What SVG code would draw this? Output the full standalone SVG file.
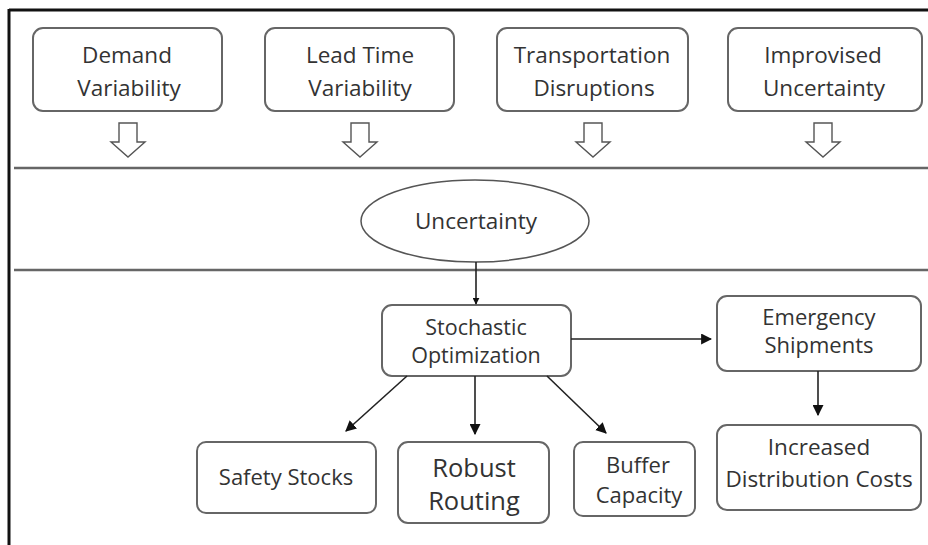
<svg xmlns="http://www.w3.org/2000/svg" width="928" height="545" viewBox="0 0 928 545">
  <defs>
    <style>
      .box { fill: #ffffff; stroke: #666666; stroke-width: 2; }
      .lbl { font-family: "Open Sans", "DejaVu Sans", sans-serif; fill: #333333; text-anchor: middle; }
      .band { stroke: #666666; stroke-width: 2.5; }
      .conn { stroke: #222222; stroke-width: 1.6; fill: none; }
      .hollow { fill: #ffffff; stroke: #555555; stroke-width: 1.4; stroke-linejoin: miter; }
    </style>
    <marker id="head" viewBox="0 0 10 10" refX="9" refY="5" markerWidth="7" markerHeight="7" markerUnits="userSpaceOnUse" orient="auto">
      <path d="M0,0 L10,5 L0,10 Z" fill="#111111"/>
    </marker>
    <marker id="headL" viewBox="0 0 10 10" refX="9" refY="5" markerWidth="11" markerHeight="11" markerUnits="userSpaceOnUse" orient="auto">
      <path d="M0,0 L10,5 L0,10 Z" fill="#111111"/>
    </marker>
    <path id="hollowArrow" d="M-9,0 L9,0 L9,19 L17,19 L0,34 L-17,19 L-9,19 Z"/>
  </defs>

  <rect x="0" y="0" width="928" height="545" fill="#ffffff"/>

  <!-- frame -->
  <line x1="9" y1="10" x2="928" y2="10" stroke="#111111" stroke-width="3"/>
  <line x1="9" y1="9" x2="9" y2="545" stroke="#111111" stroke-width="3"/>

  <!-- band separators -->
  <line class="band" x1="14" y1="168" x2="928" y2="168"/>
  <line class="band" x1="14" y1="270" x2="928" y2="270"/>

  <!-- sources -->
  <g id="demand-variability">
    <rect class="box" x="33" y="28" width="189" height="83" rx="10"/>
    <text class="lbl" x="127" y="63" font-size="22.5">Demand</text>
    <text class="lbl" x="129" y="96" font-size="22.5">Variability</text>
  </g>
  <g id="lead-time-variability">
    <rect class="box" x="265" y="28" width="189" height="83" rx="10"/>
    <text class="lbl" x="360" y="63" font-size="22.5">Lead Time</text>
    <text class="lbl" x="360" y="96" font-size="22.5">Variability</text>
  </g>
  <g id="transportation-disruptions">
    <rect class="box" x="497" y="28" width="191" height="83" rx="10"/>
    <text class="lbl" x="592" y="63" font-size="22.5">Transportation</text>
    <text class="lbl" x="594" y="96" font-size="22.5">Disruptions</text>
  </g>
  <g id="improvised-uncertainty">
    <rect class="box" x="728" y="28" width="194" height="83" rx="10"/>
    <text class="lbl" x="823" y="63" font-size="22.5">Improvised</text>
    <text class="lbl" x="824" y="96" font-size="22.5">Uncertainty</text>
  </g>

  <!-- hollow block arrows into the band -->
  <g id="source-arrows">
    <use href="#hollowArrow" class="hollow" transform="translate(128,123)"/>
    <use href="#hollowArrow" class="hollow" transform="translate(360,123)"/>
    <use href="#hollowArrow" class="hollow" transform="translate(593,123)"/>
    <use href="#hollowArrow" class="hollow" transform="translate(823,123)"/>
  </g>

  <g id="uncertainty">
    <ellipse cx="475" cy="221" rx="114" ry="41" fill="#ffffff" stroke="#555555" stroke-width="1.5"/>
    <text class="lbl" x="476" y="229" font-size="22.5">Uncertainty</text>
  </g>

  <g id="stochastic-optimization">
    <rect class="box" x="382" y="305" width="189" height="71" rx="10"/>
    <text class="lbl" x="476" y="335" font-size="21.5">Stochastic</text>
    <text class="lbl" x="476" y="363" font-size="21.5">Optimization</text>
  </g>

  <g id="emergency-shipments">
    <rect class="box" x="717" y="296" width="204" height="75" rx="10"/>
    <text class="lbl" x="819" y="325" font-size="22">Emergency</text>
    <text class="lbl" x="819" y="353" font-size="22">Shipments</text>
  </g>

  <g id="safety-stocks">
    <rect class="box" x="197" y="442" width="179" height="71" rx="9"/>
    <text class="lbl" x="286" y="485" font-size="22">Safety Stocks</text>
  </g>

  <g id="robust-routing">
    <rect class="box" x="398" y="442" width="151" height="81" rx="10"/>
    <text class="lbl" x="474" y="477" font-size="25.5">Robust</text>
    <text class="lbl" x="474" y="510" font-size="25.5">Routing</text>
  </g>

  <g id="buffer-capacity">
    <rect class="box" x="574" y="442" width="121" height="74" rx="9"/>
    <text class="lbl" x="638" y="473" font-size="22">Buffer</text>
    <text class="lbl" x="639" y="503" font-size="22">Capacity</text>
  </g>

  <g id="increased-distribution-costs">
    <rect class="box" x="717" y="425" width="204" height="85" rx="10"/>
    <text class="lbl" x="819" y="455" font-size="22.5">Increased</text>
    <text class="lbl" x="819" y="487" font-size="22.5">Distribution Costs</text>
  </g>

  <!-- connectors -->
  <g id="connectors">
    <line class="conn" x1="476" y1="262" x2="476" y2="304" marker-end="url(#head)"/>
    <line class="conn" x1="571" y1="339" x2="711" y2="339" marker-end="url(#headL)"/>
    <line class="conn" x1="818" y1="371" x2="818" y2="415" marker-end="url(#headL)"/>
    <line class="conn" x1="407" y1="376" x2="346" y2="431" marker-end="url(#headL)"/>
    <line class="conn" x1="475" y1="376" x2="475" y2="434" marker-end="url(#headL)"/>
    <line class="conn" x1="547" y1="376" x2="606" y2="433" marker-end="url(#headL)"/>
  </g>
</svg>
